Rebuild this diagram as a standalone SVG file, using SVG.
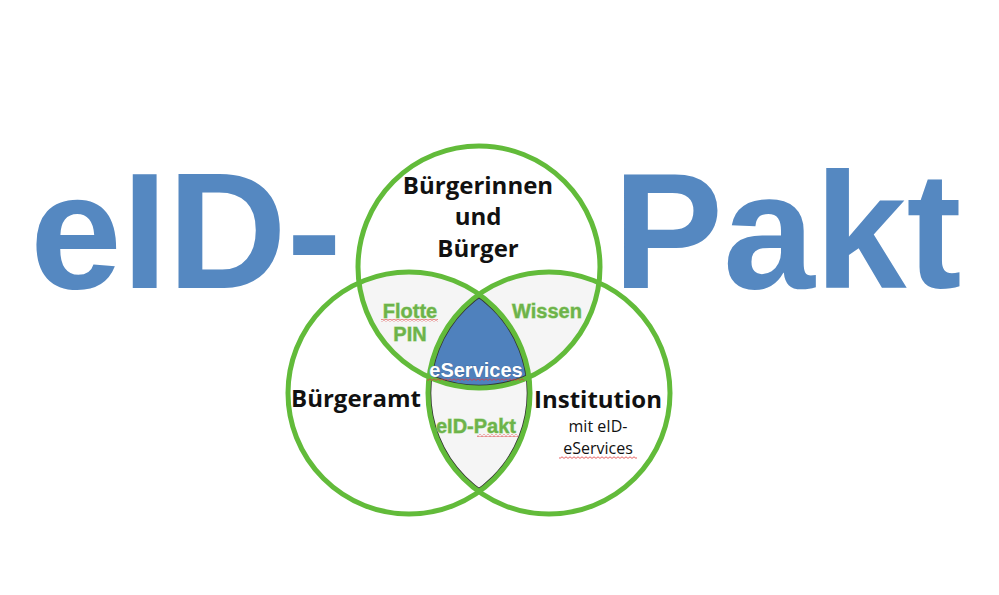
<svg xmlns="http://www.w3.org/2000/svg" width="999" height="595" viewBox="0 0 999 595">
<style>
.big{font-family:"Liberation Sans",Arial,sans-serif;font-weight:700;font-size:165px;fill:#5588c1}
.lbl{font-family:"Open Sans","Noto Sans",sans-serif;font-weight:700;font-size:24px;fill:#111;text-anchor:middle}
.sub{font-family:"Open Sans","Noto Sans",sans-serif;font-weight:400;font-size:16px;fill:#111;text-anchor:middle}
.grn{font-family:"Liberation Sans",Arial,sans-serif;font-weight:700;font-size:20px;fill:#6db34a;stroke:#a9d98f;stroke-width:0.8;paint-order:stroke;text-anchor:middle}
.wht{font-family:"Liberation Sans",Arial,sans-serif;font-weight:700;font-size:20px;fill:#fff;stroke:#3a5f8f;stroke-width:0.6;paint-order:stroke;text-anchor:middle}
.ring{fill:none;stroke:#62bb3a;stroke-width:5}
.lens{fill:#f5f5f5}
.edge{fill:none;stroke:#333;stroke-width:6.6}
.sq{fill:url(#squig)}
</style>
<defs>
<clipPath id="cT"><circle cx="479" cy="267" r="121"/></clipPath>
<clipPath id="cL"><circle cx="409" cy="393" r="121"/></clipPath>
<clipPath id="cR"><circle cx="549" cy="393" r="121"/></clipPath>
<pattern id="squig" width="4" height="3" patternUnits="userSpaceOnUse">
<path d="M0 2.4 L2 0.8 L4 2.4" fill="none" stroke="#e03a3a" stroke-width="0.8"/>
</pattern>
</defs>
<rect width="999" height="595" fill="#fff"/>
<g id="title">
<text class="big" x="30" y="288">eID-</text>
<text class="big" x="613" y="288">Pakt</text>
</g>
<g id="regions">
<g clip-path="url(#cL)"><circle class="lens" cx="479" cy="267" r="121"/></g>
<g clip-path="url(#cR)"><circle class="lens" cx="479" cy="267" r="121"/></g>
<g clip-path="url(#cR)"><circle class="lens" cx="409" cy="393" r="121"/>
<g clip-path="url(#cL)"><circle class="edge" cx="409" cy="393" r="121"/><circle class="edge" cx="549" cy="393" r="121"/></g></g>
<g clip-path="url(#cT)"><g clip-path="url(#cR)"><g clip-path="url(#cL)">
<circle cx="409" cy="393" r="121" fill="#4f81bd"/>
<circle class="edge" cx="409" cy="393" r="121"/><circle class="edge" cx="549" cy="393" r="121"/><circle class="edge" cx="479" cy="267" r="121"/>
</g></g></g>
</g>
<g id="node-buerger">
<circle class="ring" cx="479" cy="267" r="121"/>
<text class="lbl" x="478" y="194">Bürgerinnen</text>
<text class="lbl" x="478" y="225">und</text>
<text class="lbl" x="478" y="257">Bürger</text>
</g>
<g id="node-buergeramt">
<circle class="ring" cx="409" cy="393" r="121"/>
<text class="lbl" x="356" y="407">Bürgeramt</text>
</g>
<g id="node-institution">
<circle class="ring" cx="549" cy="393" r="121"/>
<text class="lbl" x="598" y="408">Institution</text>
<text class="sub" x="598" y="432">mit eID-</text>
<text class="sub" x="598" y="454">eServices</text>
</g>
<g id="intersections">
<text class="grn" x="410" y="318">Flotte</text>
<text class="grn" x="410" y="341">PIN</text>
<text class="grn" x="547" y="318">Wissen</text>
<text class="wht" x="476" y="377">eServices</text>
<text class="grn" x="476" y="433">eID-Pakt</text>
</g>
<g id="squiggles">
<rect class="sq" x="381" y="319" width="57" height="3"/>
<rect class="sq" x="427" y="378" width="97" height="3"/>
<rect class="sq" x="477" y="434" width="41" height="3"/>
<rect class="sq" x="559" y="456" width="78" height="3"/>
</g>
</svg>
